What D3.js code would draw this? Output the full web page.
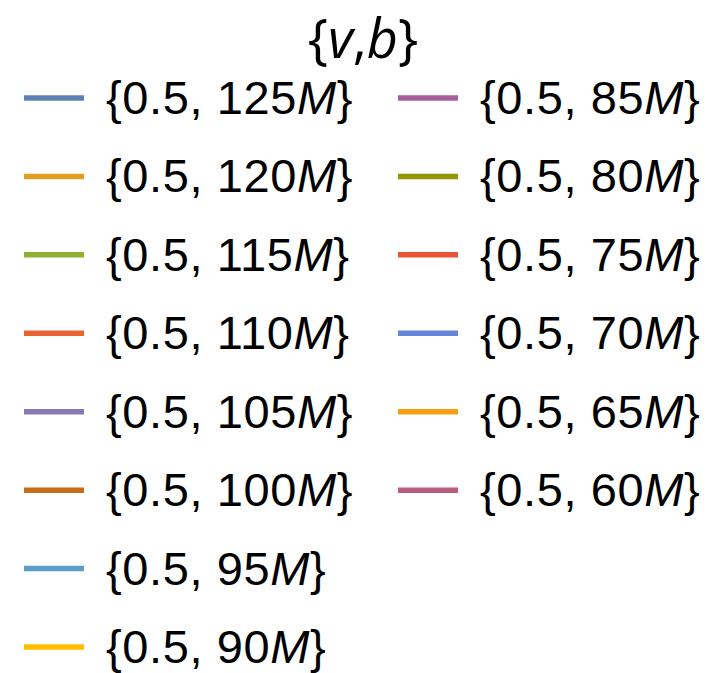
<!DOCTYPE html>
<html>
<head>
<meta charset="utf-8">
<script src="https://cdn.jsdelivr.net/npm/d3@7"></script>
<style>
  html, body { margin: 0; padding: 0; background: #ffffff; }
  svg { display: block; }
  text { font-family: "Liberation Sans", Arial, Helvetica, sans-serif; fill: #000; }
</style>
</head>
<body>
<svg id="legend" width="722" height="673"></svg>
<script>
// Legend entries: parameter v, b value (in units of M) and the line colour
const vValues = [0.5, 0.5, 0.5, 0.5, 0.5, 0.5, 0.5, 0.5, 0.5, 0.5, 0.5, 0.5, 0.5, 0.5];
const bValues = [125, 120, 115, 110, 105, 100, 95, 90, 85, 80, 75, 70, 65, 60];
const colors = [
  "#5E81B5", "#E19C24", "#8FB032", "#EB6235", "#8778B3", "#C56E1A", "#5D9EC7",
  "#FFBF00", "#A5609D", "#929600", "#E95536", "#6685D9", "#F89F13", "#BC5B80"
];
const legendTitle = ["{", "v", ",", "b", "}"];

const svg = d3.select("#legend");
const rowsFirstColumn = 8;
const fontSize = 47;

// Row placement and column placement
const yRow = d3.scaleLinear().domain([0, rowsFirstColumn - 1]).range([98, 647]);
const xCol = d3.scaleOrdinal().domain([0, 1]).range([24, 398]);
const swatchLen = 60;
const textGap = 22;

// Title with italic variable names
const title = svg.append("text")
  .attr("x", 363)
  .attr("y", 58)
  .attr("text-anchor", "middle")
  .style("font-family", "'Open Sans', 'Liberation Sans', sans-serif")
  .style("font-size", "54px");
legendTitle.forEach(s => {
  title.append("tspan")
    .style("font-style", /[a-z]/.test(s) ? "italic" : "normal")
    .text(s);
});

const entries = bValues.map((b, i) => ({
  v: vValues[i], b, color: colors[i],
  col: i < rowsFirstColumn ? 0 : 1,
  row: i < rowsFirstColumn ? i : i - rowsFirstColumn
}));

const g = svg.selectAll("g.entry")
  .data(entries)
  .join("g")
  .attr("class", "entry")
  .attr("transform", d => `translate(${xCol(d.col)},${yRow(d.row)})`);

g.append("line")
  .attr("x1", 0)
  .attr("x2", swatchLen)
  .attr("y1", 0)
  .attr("y2", 0)
  .attr("stroke", d => d.color)
  .attr("stroke-width", 5.5);

const label = g.append("text")
  .attr("x", swatchLen + textGap)
  .attr("y", 16)
  .style("font-size", fontSize + "px")
  .style("letter-spacing", "0.6px");
label.append("tspan").text(d => `{${d.v}, ${d.b}`);
label.append("tspan").style("font-style", "italic").text("M");
label.append("tspan").text("}");
</script>
</body>
</html>
